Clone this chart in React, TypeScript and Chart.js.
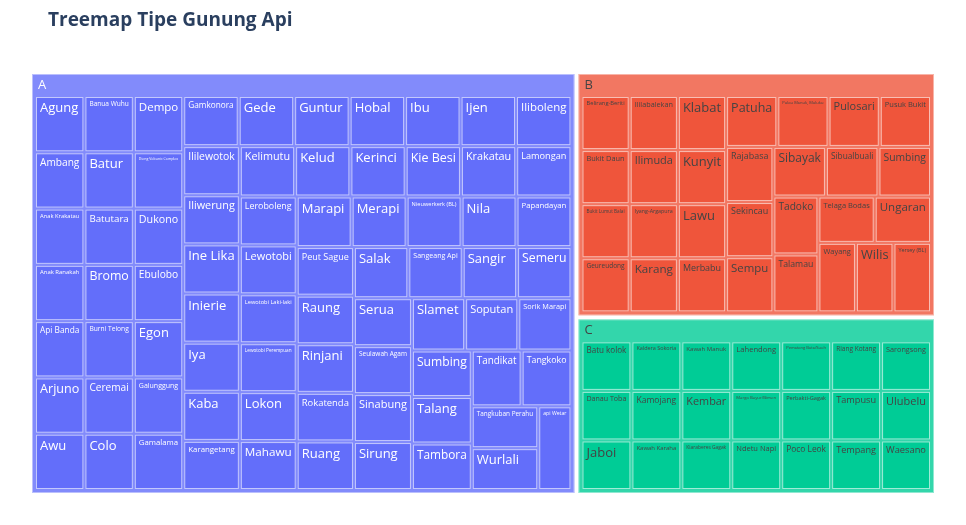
import { useEffect, useRef } from "react";
import { Chart, registerables } from "chart.js";

Chart.register(...registerables);

const chartTitle = "Treemap Tipe Gunung Api";
const categories = ["A", "B", "C"];

const namesA = [
  "Agung", "Ambang", "Anak Krakatau", "Anak Ranakah", "Api Banda", "Arjuno", "Awu",
  "Banua Wuhu", "Batur", "Batutara", "Bromo", "Burni Telong", "Ceremai", "Colo",
  "Dempo", "Dieng Volcanic Complex", "Dukono", "Ebulobo", "Egon", "Galunggung", "Gamalama",
  "Gamkonora", "Gede", "Guntur", "Hobal", "Ibu", "Ijen", "Iliboleng",
  "Ililewotok", "Iliwerung", "Ine Lika", "Inierie", "Iya", "Kaba", "Karangetang",
  "Kelimutu", "Kelud", "Kerinci", "Kie Besi", "Krakatau", "Lamongan",
  "Leroboleng", "Lewotobi", "Lewotobi Laki-laki", "Lewotobi Perempuan", "Lokon", "Mahawu",
  "Marapi", "Merapi", "Nieuwerkerk (BL)", "Nila", "Papandayan",
  "Peut Sague", "Raung", "Rinjani", "Rokatenda", "Ruang",
  "Salak", "Sangeang Api", "Sangir", "Semeru",
  "Serua", "Seulawah Agam", "Sinabung", "Sirung",
  "Slamet", "Soputan", "Sorik Marapi",
  "Sumbing", "Talang", "Tambora",
  "Tandikat", "Tangkoko",
  "Tangkuban Perahu", "Wurlali",
  "api Wetar",
];
const valuesA = [
  1, 1, 1, 1, 1, 1, 1,
  1, 1, 1, 1, 1, 1, 1,
  1, 1, 1, 1, 1, 1, 1,
  1, 1, 1, 1, 1, 1, 1,
  1, 1, 1, 1, 1, 1, 1,
  1, 1, 1, 1, 1, 1,
  1, 1, 1, 1, 1, 1,
  1, 1, 1, 1, 1,
  1, 1, 1, 1, 1,
  1, 1, 1, 1,
  1, 1, 1, 1,
  1, 1, 1,
  1, 1, 1,
  1, 1,
  1, 1,
  1,
];

const namesB = [
  "Belirang-Beriti", "Bukit Daun", "Bukit Lumut Balai", "Geureudong",
  "Ililabalekan", "Ilimuda", "Iyang-Argapura", "Karang",
  "Klabat", "Kunyit", "Lawu", "Merbabu",
  "Patuha", "Pulau Manuk, Maluku", "Pulosari", "Pusuk Bukit",
  "Rajabasa", "Sekincau", "Sempu",
  "Sibayak", "Sibualbuali", "Sumbing",
  "Tadoko", "Talamau",
  "Telaga Bodas", "Ungaran",
  "Wayang", "Wilis", "Yersey (BL)",
];
const valuesB = [
  1, 1, 1, 1,
  1, 1, 1, 1,
  1, 1, 1, 1,
  1, 1, 1, 1,
  1, 1, 1,
  1, 1, 1,
  1, 1,
  1, 1,
  1, 1, 1,
];

const namesC = [
  "Batu kolok", "Danau Toba", "Jaboi",
  "Kaldera Sokoria", "Kamojang", "Kawah Karaha",
  "Kawah Manuk", "Kembar", "Kiaraberes Gagak",
  "Lahendong", "Marga Bayur/Bimen", "Ndetu Napi",
  "Pematang Bata/Suoh", "Perbakti-Gagak", "Poco Leok",
  "Riang Kotang", "Sarongsong", "Tampusu", "Tempang", "Ulubelu", "Waesano",
];
const valuesC = [
  1, 1, 1,
  1, 1, 1,
  1, 1, 1,
  1, 1, 1,
  1, 1, 1,
  1, 1, 1, 1, 1, 1,
];

const groupNames = [namesA, namesB, namesC];
const groupValues = [valuesA, valuesB, valuesC];

const leafColors = ["#636efa", "#ef553b", "#00cc96"];
const parentColors = ["rgba(99,110,250,0.8)", "rgba(239,85,59,0.8)", "rgba(0,204,150,0.8)"];
const textColors = ["#ffffff", "#444444", "#444444"];

const FONT = '"Open Sans", verdana, arial, sans-serif';

type Rect = { x0: number; y0: number; x1: number; y1: number };

function squarify(values: number[], ax0: number, ay0: number, ax1: number, ay1: number, ratio = 1): Rect[] {
  const n = values.length;
  const out: Rect[] = new Array(n);
  let x0 = ax0, y0 = ay0, x1 = ax1, y1 = ay1;
  let value = values.reduce((a, b) => a + b, 0);
  let i0 = 0, i1 = 0;
  while (i0 < n) {
    const dx = x1 - x0, dy = y1 - y0;
    let sumValue = 0;
    do sumValue = values[i1++]; while (!sumValue && i1 < n);
    let minV = sumValue, maxV = sumValue;
    const alpha = Math.max(dy / dx, dx / dy) / (value * ratio);
    let beta = sumValue * sumValue * alpha;
    let minRatio = Math.max(maxV / beta, beta / minV);
    for (; i1 < n; ++i1) {
      const nv = values[i1];
      sumValue += nv;
      if (nv < minV) minV = nv;
      if (nv > maxV) maxV = nv;
      beta = sumValue * sumValue * alpha;
      const newRatio = Math.max(maxV / beta, beta / minV);
      if (newRatio > minRatio) { sumValue -= nv; break; }
      minRatio = newRatio;
    }
    if (dx < dy) {
      const ny = dy ? y0 + (dy * sumValue) / value : y1;
      let cx = x0;
      for (let k = i0; k < i1; k++) {
        const w = ((x1 - x0) * values[k]) / sumValue;
        out[k] = { x0: cx, y0: y0, x1: cx + w, y1: ny };
        cx += w;
      }
      y0 = ny;
    } else {
      const nx = dx ? x0 + (dx * sumValue) / value : x1;
      let cy = y0;
      for (let k = i0; k < i1; k++) {
        const h = ((y1 - y0) * values[k]) / sumValue;
        out[k] = { x0: x0, y0: cy, x1: nx, y1: cy + h };
        cy += h;
      }
      x0 = nx;
    }
    value -= sumValue;
    i0 = i1;
  }
  return out;
}

// region of the treemap in the chart's value space (which equals pixels here)
const AREA = { x0: 30, y0: 72, x1: 936, y1: 495 };

function drawLabel(ctx: CanvasRenderingContext2D, text: string, px0: number, py0: number, px1: number, py1: number, color: string, maxSize: number) {
  ctx.font = `${maxSize}px ${FONT}`;
  const tw = ctx.measureText(text).width;
  const availW = px1 - px0 - 10;
  const availH = py1 - py0 - 8;
  const scale = Math.min(1, availW / tw, availH / (maxSize * 1.2));
  if (scale <= 0) return;
  const fs = maxSize * scale;
  ctx.font = `${fs}px ${FONT}`;
  ctx.fillStyle = color;
  ctx.textBaseline = "alphabetic";
  ctx.textAlign = "left";
  ctx.fillText(text, px0 + 5, py0 + 4 + fs * 0.93);
}

const treemapPlugin = {
  id: "treemapDraw",
  afterDraw(chart: any) {
    const ctx: CanvasRenderingContext2D = chart.ctx;
    const xs = chart.scales.x;
    const ys = chart.scales.y;
    const X = (v: number) => xs.getPixelForValue(v);
    const Y = (v: number) => ys.getPixelForValue(v);
    ctx.save();

    // title
    ctx.font = `bold 19px ${FONT}`;
    ctx.fillStyle = "#2a3f5f";
    ctx.textBaseline = "alphabetic";
    ctx.textAlign = "left";
    ctx.fillText(chartTitle, 48, 25.5);

    const totals = groupValues.map((vs) => vs.reduce((a, b) => a + b, 0));
    const top = squarify(totals, AREA.x0, AREA.y0, AREA.x1, AREA.y1);

    top.forEach((r, gi) => {
      const px0 = X(r.x0) + 2, px1 = X(r.x1) - 2;
      const py0 = Y(r.y0) + 2, py1 = Y(r.y1) - 2;
      ctx.fillStyle = "#ffffff";
      ctx.fillRect(px0, py0, px1 - px0, py1 - py0);
      ctx.fillStyle = parentColors[gi];
      ctx.fillRect(px0, py0, px1 - px0, py1 - py0);
      ctx.strokeStyle = "rgba(255,255,255,0.45)";
      ctx.lineWidth = 1;
      ctx.strokeRect(px0 + 0.5, py0 + 0.5, px1 - px0 - 1, py1 - py0 - 1);

      // header label
      ctx.font = `13px ${FONT}`;
      ctx.fillStyle = textColors[gi];
      ctx.fillText(categories[gi], px0 + 6, py0 + 15);

      // children in value space
      const cx0 = xs.getValueForPixel(px0 + 3);
      const cx1 = xs.getValueForPixel(px1 - 3);
      const cy0 = ys.getValueForPixel(py0 + 22);
      const cy1 = ys.getValueForPixel(py1 - 3);
      const leaves = squarify(groupValues[gi], cx0, cy0, cx1, cy1);
      leaves.forEach((lr, li) => {
        const lx0 = X(lr.x0), lx1 = X(lr.x1);
        const ly0 = Y(lr.y0), ly1 = Y(lr.y1);
        ctx.fillStyle = leafColors[gi];
        ctx.fillRect(lx0 + 1, ly0 + 1, lx1 - lx0 - 2, ly1 - ly0 - 2);
        ctx.strokeStyle = "rgba(255,255,255,0.62)";
        ctx.lineWidth = 1;
        ctx.strokeRect(lx0 + 1.5, ly0 + 1.5, lx1 - lx0 - 3, ly1 - ly0 - 3);
        drawLabel(ctx, groupNames[gi][li], lx0, ly0, lx1, ly1, textColors[gi], 13);
      });
    });
    ctx.restore();
  },
};

export default function App() {
  const canvasRef = useRef<HTMLCanvasElement | null>(null);
  useEffect(() => {
    document.body.style.margin = "0";
    const canvas = canvasRef.current;
    if (!canvas) return;
    const chart = new Chart(canvas, {
      type: "scatter",
      data: { datasets: [{ data: [] }] },
      options: {
        animation: false,
        responsive: false,
        devicePixelRatio: 1,
        layout: { padding: 0 },
        plugins: {
          legend: { display: false },
          tooltip: { enabled: false },
          title: { display: false },
        },
        scales: {
          x: { type: "linear", min: 0, max: 966, display: false },
          y: { type: "linear", min: 0, max: 525, reverse: true, display: false },
        },
      },
      plugins: [treemapPlugin],
    } as any);
    return () => chart.destroy();
  }, []);
  return (
    <div style={{ width: 966, height: 525, background: "#ffffff" }}>
      <canvas ref={canvasRef} width={966} height={525} />
    </div>
  );
}
